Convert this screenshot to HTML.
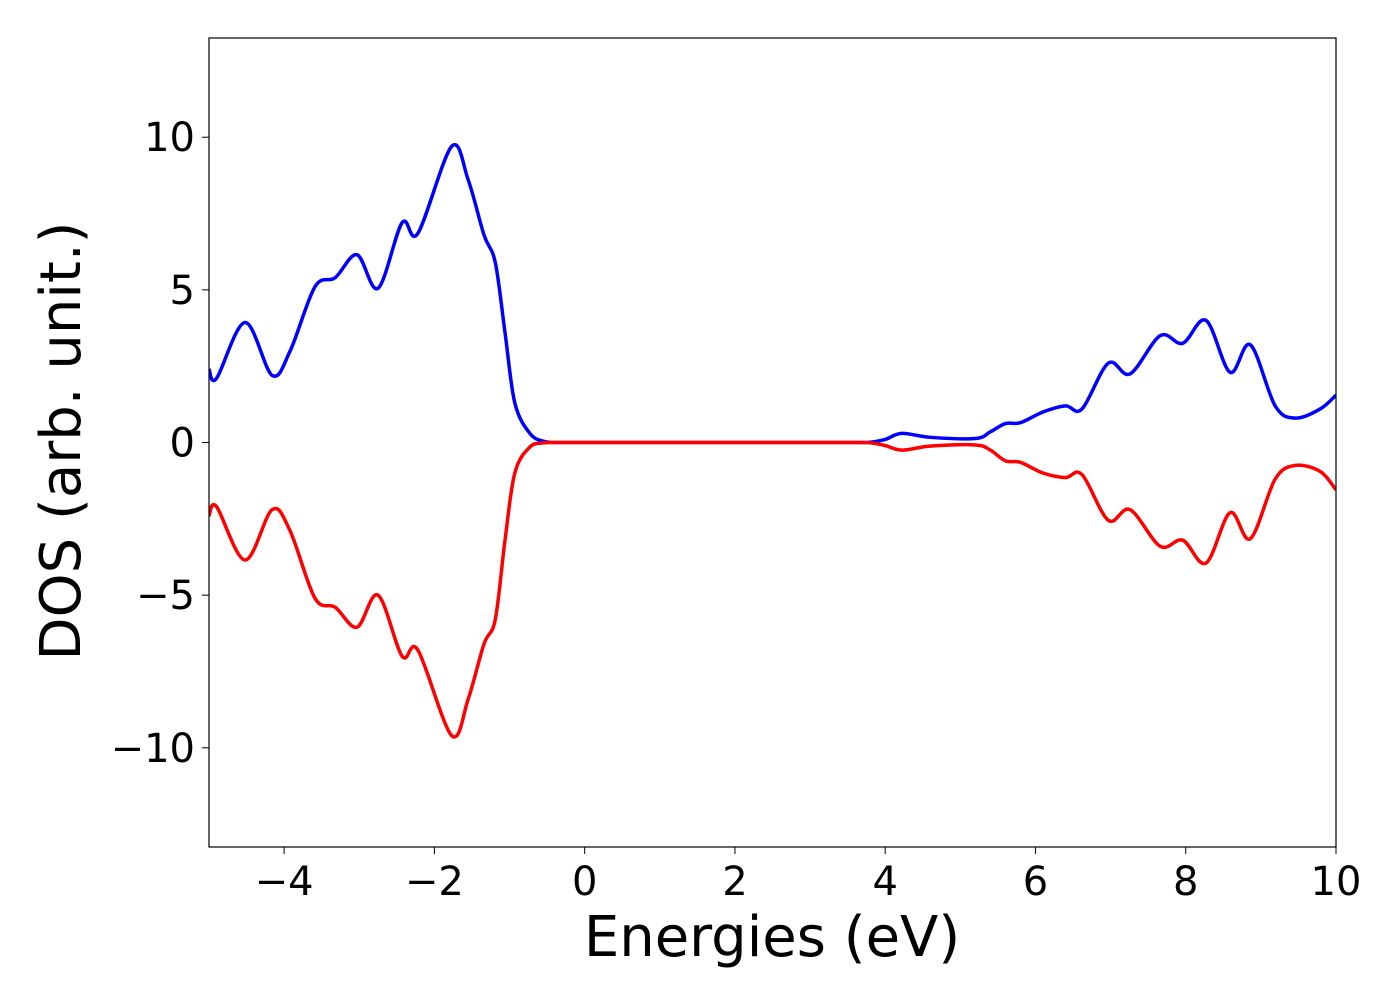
<!DOCTYPE html>
<html><head><meta charset="utf-8"><style>
html,body{margin:0;padding:0;background:#fff;}
svg text{font-family:"DejaVu Sans","Liberation Sans",sans-serif;fill:#000;}
</style></head><body>
<svg id="chart" width="1400" height="1000" xmlns="http://www.w3.org/2000/svg">
<defs><clipPath id="clip"><rect x="209" y="38" width="1127" height="809"/></clipPath></defs>
<g id="series" clip-path="url(#clip)"></g>
<rect x="209" y="38" width="1127" height="809" fill="none" stroke="#000" stroke-width="1.2"/>
<g id="xticks"></g>
<g id="yticks"></g>
<text x="772" y="956" font-size="56" text-anchor="middle">Energies (eV)</text>
<text transform="translate(80,441) rotate(-90)" font-size="56" text-anchor="middle">DOS (arb. unit.)</text>
</svg>
<script>
const upX = [-5,-4.9,-4.52,-4.16,-3.92,-3.59,-3.32,-3.03,-2.75,-2.43,-2.22,-1.77,-1.55,-1.34,-1.19,-1.06,-0.93,-0.73,-0.53,-0.3,0,1,2,3,3.6,3.8,4.0,4.22,4.6,5.2,5.4,5.6,5.8,6.1,6.4,6.62,6.97,7.26,7.66,7.96,8.27,8.59,8.86,9.19,9.46,9.79,10];
const upY = [2.4,2.1,3.93,2.2,3.0,5.1,5.4,6.15,5.05,7.2,6.85,9.7,8.6,6.8,5.9,3.6,1.3,0.3,0.03,0,0,0,0,0,0,0.01,0.1,0.3,0.17,0.13,0.35,0.62,0.65,1.0,1.2,1.1,2.6,2.25,3.5,3.25,4.0,2.3,3.2,1.2,0.8,1.1,1.55];
const dnX = [-5,-4.9,-4.52,-4.16,-3.92,-3.59,-3.32,-3.03,-2.75,-2.43,-2.22,-1.77,-1.55,-1.34,-1.19,-1.06,-0.93,-0.73,-0.53,-0.3,0,1,2,3,3.6,3.8,4.0,4.22,4.6,5.2,5.4,5.6,5.8,6.1,6.4,6.62,6.97,7.26,7.66,7.96,8.27,8.59,8.86,9.19,9.46,9.79,10];
const dnY = [-2.4,-2.1,-3.85,-2.2,-2.9,-5.1,-5.4,-6.05,-5.0,-7.0,-6.8,-9.6,-8.4,-6.6,-5.8,-3.2,-1.0,-0.15,-0.01,0,0,0,0,0,0,-0.01,-0.1,-0.25,-0.12,-0.08,-0.25,-0.6,-0.65,-1.0,-1.15,-1.05,-2.55,-2.2,-3.4,-3.2,-3.95,-2.3,-3.15,-1.2,-0.75,-0.95,-1.55];
const xTicks = [-4,-2,0,2,4,6,8,10];
const yTicks = [-10,-5,0,5,10];
const X0=209,X1=1336,Y0=38,Y1=847,xmin=-5,xmax=10,ymin=-13.25,ymax=13.25;
const sx=v=>X0+(v-xmin)/(xmax-xmin)*(X1-X0);
const sy=v=>Y1-(v-ymin)/(ymax-ymin)*(Y1-Y0);
const NS="http://www.w3.org/2000/svg";
function path(xs,ys){
  const p=xs.map((x,i)=>[sx(x),sy(ys[i])]);
  let d="M"+p[0][0]+","+p[0][1];
  for(let i=0;i<p.length-1;i++){
    const p0=p[Math.max(0,i-1)],p1=p[i],p2=p[i+1],p3=p[Math.min(p.length-1,i+2)];
    const c1=[p1[0]+(p2[0]-p0[0])/6,p1[1]+(p2[1]-p0[1])/6];
    const c2=[p2[0]-(p3[0]-p1[0])/6,p2[1]-(p3[1]-p1[1])/6];
    d+=`C${c1[0]},${c1[1]} ${c2[0]},${c2[1]} ${p2[0]},${p2[1]}`;
  }
  return d;
}
const g=document.getElementById("series");
[[upX,upY,"#0000ff","spin-up-line"],[dnX,dnY,"#ff0000","spin-down-line"]].forEach(s=>{
  const el=document.createElementNS(NS,"path");
  el.setAttribute("d",path(s[0],s[1]));
  el.setAttribute("fill","none");el.setAttribute("stroke",s[2]);el.setAttribute("stroke-width","3.5");
  
  
  g.appendChild(el);
});
const fmt=v=>v<0?"\u2212"+Math.abs(v):String(v);
const gx=document.getElementById("xticks");
xTicks.forEach(v=>{
  const l=document.createElementNS(NS,"line");
  l.setAttribute("x1",sx(v));l.setAttribute("x2",sx(v));l.setAttribute("y1",Y1);l.setAttribute("y2",Y1+7);l.setAttribute("stroke","#000");
  
  
  gx.appendChild(l);
  const t=document.createElementNS(NS,"text");
  t.setAttribute("x",sx(v));t.setAttribute("y",Y1+48);t.setAttribute("font-size","40");t.setAttribute("text-anchor","middle");
  t.textContent=fmt(v);
  
  
  gx.appendChild(t);
});
const gy=document.getElementById("yticks");
yTicks.forEach(v=>{
  const l=document.createElementNS(NS,"line");
  l.setAttribute("x1",X0-7);l.setAttribute("x2",X0);l.setAttribute("y1",sy(v));l.setAttribute("y2",sy(v));l.setAttribute("stroke","#000");
  
  
  gy.appendChild(l);
  const t=document.createElementNS(NS,"text");
  t.setAttribute("x",X0-14);t.setAttribute("y",sy(v)+14);t.setAttribute("font-size","40");t.setAttribute("text-anchor","end");
  t.textContent=fmt(v);
  
  
  gy.appendChild(t);
});
</script>
</body></html>
